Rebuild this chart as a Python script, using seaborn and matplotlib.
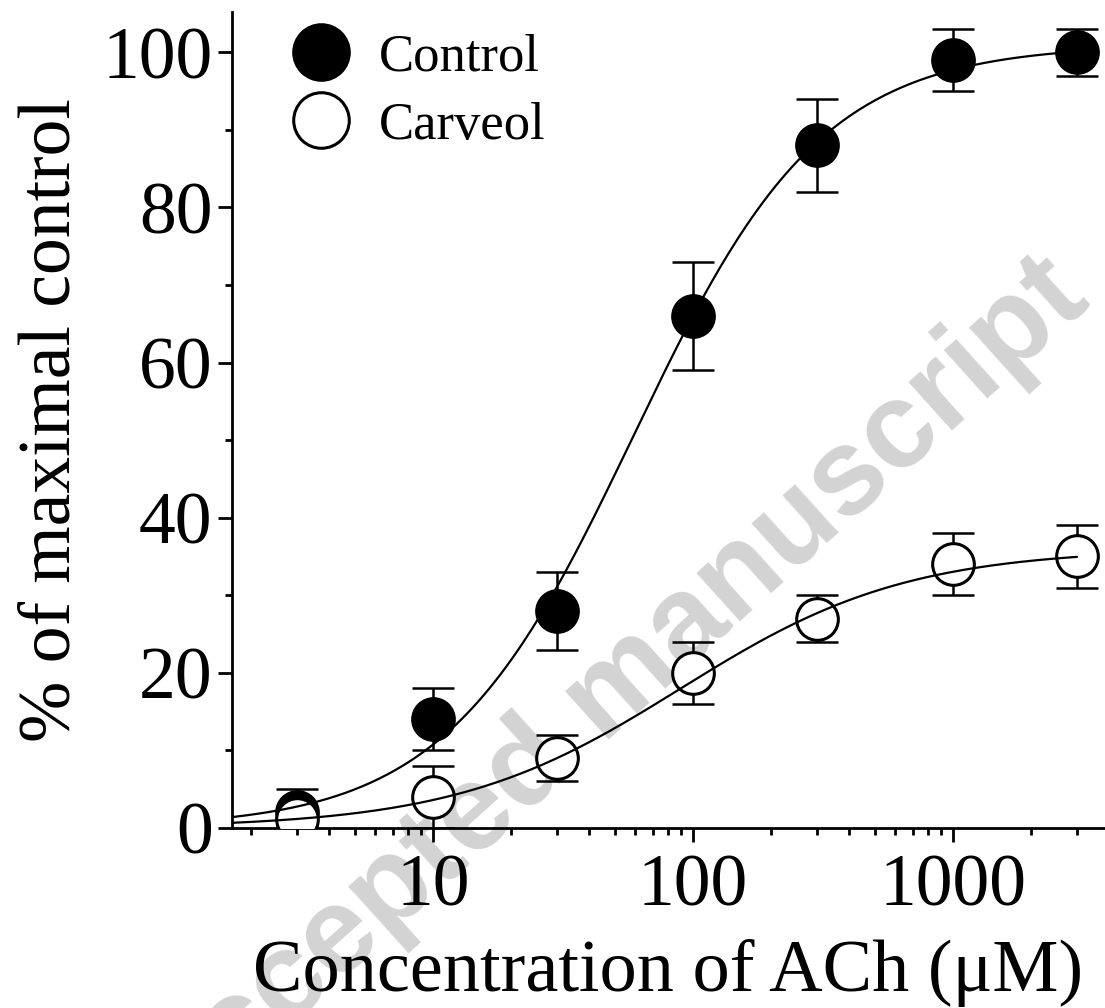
import numpy as np
import pandas as pd
import matplotlib
matplotlib.use("Agg")
import matplotlib.pyplot as plt
from matplotlib.lines import Line2D
import seaborn as sns

# ACh concentrations (µM) and responses (% of maximal control, mean ± SEM)
conc = [3, 10, 30, 100, 300, 1000, 3000]
control_mean = [2, 14, 28, 66, 88, 99, 100]
control_sem = [3, 4, 5, 7, 6, 4, 3]
carveol_mean = [1.2, 4, 9, 20, 27, 34, 35]
carveol_sem = [1, 4, 3, 4, 3, 4, 4]

# Hill fit parameters: [top, EC50 (µM), Hill slope]
control_fit = [101, 59, 1.2]
carveol_fit = [36, 90, 1.0]

groups = ["Control", "Carveol"]
y_ticks = [0, 20, 40, 60, 80, 100]
x_ticks = [10, 100, 1000]

sns.set_style("ticks")
plt.rcParams["font.family"] = ["Liberation Serif", "DejaVu Serif"]
for key in ["text.color", "axes.labelcolor", "xtick.color", "ytick.color",
            "axes.edgecolor"]:
    plt.rcParams[key] = "black"

fig = plt.figure(figsize=(11.05, 10.08), dpi=100)
ax = fig.add_axes([0.2100, 0.1786, 0.7900, 0.8095])


def hill(x, top, ec50, n):
    x = np.asarray(x, dtype=float)
    return top * (x / ec50) ** n / (1 + (x / ec50) ** n)


xs = np.logspace(np.log10(1.69), np.log10(3000), 300)
curve_df = pd.concat([
    pd.DataFrame({"conc": xs, "resp": hill(xs, *control_fit), "group": "Control"}),
    pd.DataFrame({"conc": xs, "resp": hill(xs, *carveol_fit), "group": "Carveol"}),
])
points_df = pd.DataFrame({
    "conc": conc * 2,
    "resp": control_mean + carveol_mean,
    "err": control_sem + carveol_sem,
    "group": ["Control"] * len(conc) + ["Carveol"] * len(conc),
})

# error bars beneath the markers
for g in groups:
    d = points_df[points_df["group"] == g]
    ax.errorbar(d["conc"], d["resp"], yerr=d["err"], fmt="none", ecolor="black",
                elinewidth=1.8, capsize=15, capthick=1.8, zorder=2)

# markers: filled for control, open for carveol
face = {"Control": "black", "Carveol": "white"}
for i, g in enumerate(groups):
    d = points_df[points_df["group"] == g]
    ax.plot(d["conc"], d["resp"], linestyle="none", marker="o", markersize=30,
            markerfacecolor=face[g], markeredgecolor="black",
            markeredgewidth=2.2, zorder=3 + i)

# fitted concentration-response curves
sns.lineplot(data=curve_df, x="conc", y="resp", hue="group",
             palette={"Control": "black", "Carveol": "black"},
             linewidth=1.6, legend=False, ax=ax, zorder=6, estimator=None,
             sort=False)

ax.set_xscale("log")
ax.set_xlim(1.69, 3846)
ax.set_ylim(0, 105.2)
ax.set_xticks(x_ticks)
ax.set_xticklabels([str(t) for t in x_ticks])
ax.set_yticks(y_ticks)
ax.set_yticklabels([str(t) for t in y_ticks])
ax.set_yticks([10, 30, 50, 70, 90], minor=True)
ax.xaxis.set_minor_locator(matplotlib.ticker.LogLocator(base=10, subs=np.arange(2, 10)))
ax.xaxis.set_minor_formatter(matplotlib.ticker.NullFormatter())

ax.tick_params(axis="both", which="major", direction="out", length=10,
               width=2, labelsize=53, color="black", labelcolor="black")
ax.tick_params(axis="x", which="major", pad=9)
ax.tick_params(axis="y", which="major", pad=4)
ax.tick_params(axis="both", which="minor", direction="out", length=5,
               width=2, color="black")
for s in ["top", "right"]:
    ax.spines[s].set_visible(False)
for s in ["left", "bottom"]:
    ax.spines[s].set_linewidth(2)
    ax.spines[s].set_color("black")

ax.set_xlabel("Concentration of ACh (μM)", fontsize=53.5, labelpad=12)
ax.set_ylabel("% of maximal control", fontsize=53, labelpad=12)

handles = [
    Line2D([], [], linestyle="none", marker="o", markersize=40,
           markerfacecolor="black", markeredgecolor="black", markeredgewidth=2.2),
    Line2D([], [], linestyle="none", marker="o", markersize=40,
           markerfacecolor="white", markeredgecolor="black", markeredgewidth=2.2),
]
ax.legend(handles, groups, loc="upper left", bbox_to_anchor=(0.047, 0.9995),
          frameon=False, fontsize=38, handletextpad=0.6, labelspacing=0.38,
          handlelength=1.0, borderaxespad=0)

# watermark sits beneath the axis text and the data
ax.text(0.552, 0.310, "Accepted manuscript", transform=fig.transFigure,
        rotation=42, rotation_mode="anchor", ha="center", va="center",
        fontsize=88, fontweight="bold", family="Liberation Sans",
        color="#d3d3d3", zorder=0.2, clip_on=False)

fig.savefig("out.png", dpi=100)
